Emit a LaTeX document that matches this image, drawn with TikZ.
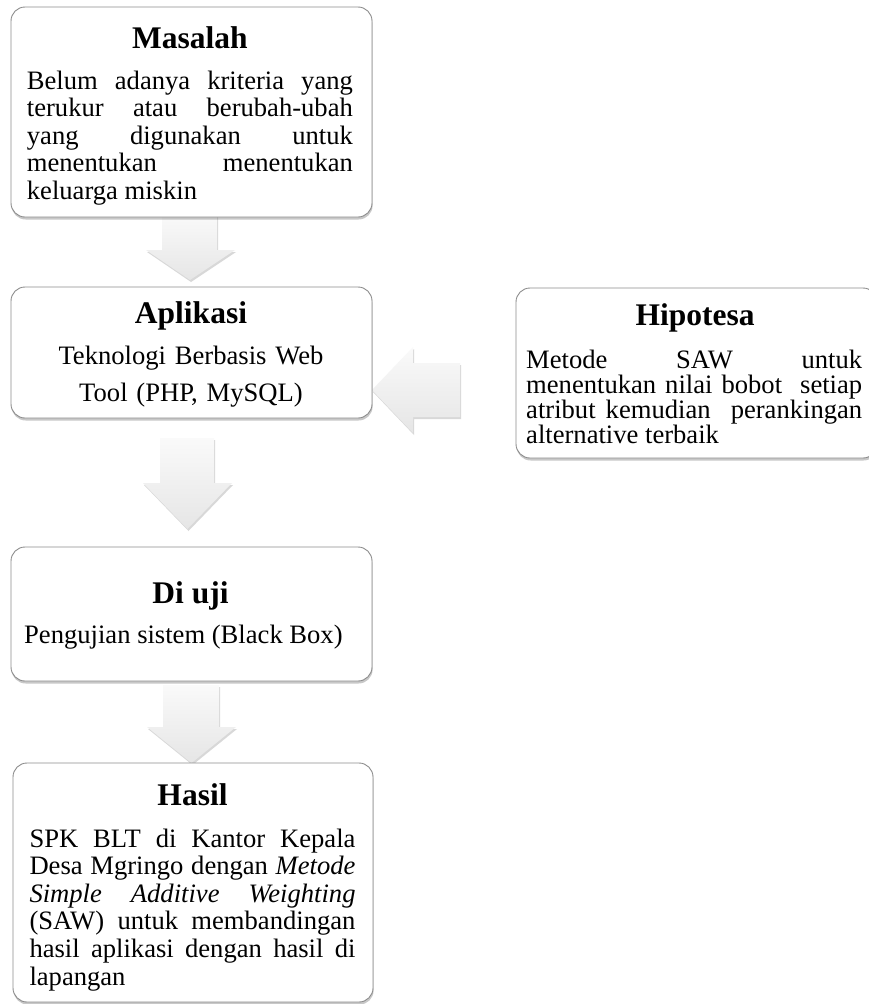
\documentclass[tikz,border=0pt]{standalone}
\usepackage{fontspec}
\setmainfont{Liberation Serif}
\usetikzlibrary{shadows}
\newcommand{\jl}[2]{\makebox[#1][s]{\spaceskip=0pt\xspaceskip=0pt\relax #2}\par}
\begin{document}
\begin{tikzpicture}[x=1pt,y=-1pt,
  card/.style={draw=black!45, line width=0.9pt, fill=white, rounded corners=14pt, inner sep=0pt,
    drop shadow={shadow xshift=0.6pt, shadow yshift=-2.5pt, opacity=0.3, fill=black!70}},
  ttl/.style={font=\bfseries\fontsize{31.5}{34}\selectfont, inner sep=0pt, anchor=base},
  body/.style={font=\fontsize{26.6}{27.5}\selectfont, inner sep=0pt, anchor=base west, align=justify},
  blockarrow/.style={top color=gray!4, bottom color=gray!20, draw=none,
    drop shadow={shadow xshift=1pt, shadow yshift=-2pt, opacity=0.25, fill=black!60}}
]
\useasboundingbox (0,0) rectangle (869,1004);
\fill[white] (0,0) rectangle (869,1004);

% block arrows
\path[blockarrow] (162,214) -- (217,214) -- (217,250) -- (235,250) -- (190,280) -- (146,250) -- (162,250) -- cycle;
\path[blockarrow] (160,438) -- (214,438) -- (214,483) -- (232,483) -- (187.5,529) -- (143,483) -- (160,483) -- cycle;
\path[blockarrow] (163,685) -- (219,685) -- (219,727) -- (236,727) -- (191.5,763) -- (147,727) -- (163,727) -- cycle;
\path[blockarrow] (460,363) -- (460,417) -- (413,417) -- (413,433) -- (372,390) -- (413,347) -- (413,363) -- cycle;

% boxes
\node[card, minimum width=361pt, minimum height=210pt] (masalah) at (191.5,112) {};
\node[card, minimum width=361pt, minimum height=131pt] (aplikasi) at (191.5,352.5) {};
\node[card, minimum width=361pt, minimum height=134pt] (diuji) at (191.5,614) {};
\node[card, minimum width=360pt, minimum height=239pt] (hasil) at (193,882.5) {};
\node[card, minimum width=361pt, minimum height=170pt] (hipotesa) at (696.5,373) {};

% titles
\node[ttl] (tmasalah) at (190,48) {Masalah};
\node[ttl] (taplikasi) at (191,323) {Aplikasi};
\node[ttl] (tdiuji) at (190.5,603) {Di uji};
\node[ttl] (thasil) at (192.5,805) {Hasil};
\node[ttl] (thipotesa) at (695,325) {Hipotesa};

% body texts
\node[body, text width=326pt] (bmasalah) at (26.7,89.3) {%
\jl{326pt}{Belum adanya kriteria yang}%
\jl{326pt}{terukur atau berubah-ubah}%
\jl{326pt}{yang digunakan untuk}%
\jl{326pt}{menentukan menentukan}%
keluarga miskin};

\node[font=\fontsize{26.6}{37.5}\selectfont, inner sep=0pt, anchor=base, text width=340pt, align=center] (baplikasi) at (191,364) {Teknologi Berbasis Web\\ Tool (PHP, MySQL)};

\node[body] (bdiuji) at (24,643) {Pengujian sistem (Black Box)};

\node[body, text width=326pt, font=\fontsize{26.6}{27.6}\selectfont] (bhasil) at (29.3,847) {%
\jl{326pt}{SPK BLT di Kantor Kepala}%
\jl{326pt}{Desa Mgringo dengan \textit{Metode}}%
\jl{326pt}{\itshape Simple Additive Weighting}%
\jl{326pt}{(SAW) untuk membandingan}%
\jl{326pt}{hasil aplikasi dengan hasil di}%
lapangan};

\node[body, text width=336pt, font=\fontsize{26.6}{25}\selectfont] (bhipotesa) at (526,368) {%
\jl{336pt}{Metode SAW untuk}%
\jl{336pt}{menentukan nilai bobot\ \ setiap}%
\jl{336pt}{atribut kemudian\ \ perankingan}%
alternative terbaik};
\end{tikzpicture}
\end{document}
